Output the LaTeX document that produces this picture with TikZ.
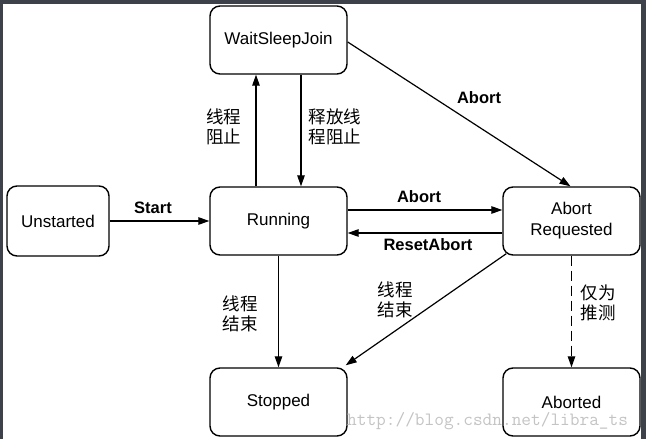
\documentclass[tikz,border=0pt]{standalone}
\usepackage{fontspec}
\setmainfont{Liberation Sans}
\newfontfamily\cjkfont{Noto Sans CJK SC}
\usetikzlibrary{arrows.meta}
\definecolor{framegray}{HTML}{3D424A}
\definecolor{wmgray}{HTML}{C4C4C4}
\begin{document}
\begin{tikzpicture}[x=1pt,y=-1pt,
  state/.style={draw=black, line width=1.4pt, rounded corners=10pt, fill=white,
    minimum width=137pt, minimum height=68pt, inner sep=0pt, align=center,
    font=\fontsize{17}{21}\selectfont},
  arr/.style={line width=1.2pt, -{Triangle[length=11pt,width=7.5pt]}},
  lbl/.style={font=\fontsize{16.5}{20}\selectfont\bfseries, inner sep=0pt},
  cn/.style={font=\fontsize{17.5}{20}\selectfont\cjkfont, align=left, inner sep=0pt}]
\useasboundingbox (0,0) rectangle (646,439);
\fill[framegray] (0,0) rectangle (646,439);
\fill[white] (3,4) rectangle (641,439);

\node[state] (wsj) at (278.5,40) {WaitSleepJoin};
\node[state] (run) at (278.5,221) {Running};
\node[state, minimum width=102pt, minimum height=70pt] (uns) at (58,221) {Unstarted};
\node[state] (ar) at (571.5,221) {Abort\\Requested};
\node[state] (st) at (278.5,402) {Stopped};
\node[state] (ab) at (571.5,402) {Aborted};

\draw[arr] ([xshift=-22.5pt]run.north) -- ([xshift=-22.5pt]wsj.south);
\draw[arr] ([xshift=22.5pt]wsj.south) -- ([xshift=22.5pt]run.north);
\draw[arr] (uns.east) -- (run.west);
\draw[arr] ([yshift=11pt]run.east) -- ([yshift=11pt]ar.west);
\draw[arr] ([yshift=-12pt]ar.west) -- ([yshift=-12pt]run.east);
\draw[arr] ([yshift=-2pt]wsj.east) -- ([xshift=-1pt]ar.north);
\draw[arr] (run.south) -- (st.north);
\draw[arr] ([xshift=4pt,yshift=2pt]ar.south west) -- ([xshift=-2pt,yshift=2pt]st.north east);
\draw[arr, dash pattern=on 10pt off 5pt] (ar.south) -- (ab.north);

\node[cn] (l1) at (223.5,127) {线程\\阻止};
\node[cn] (l2) at (335,127) {释放线\\程阻止};
\node[lbl] (l3) at (153,208) {Start};
\node[lbl] (l4) at (479,98) {Abort};
\node[lbl] (l5) at (419,197) {Abort};
\node[lbl] (l6) at (428,245) {ResetAbort};
\node[cn] (l7) at (240,314) {线程\\结束};
\node[cn] (l8) at (395,300) {线程\\结束};
\node[cn] (l9) at (598,303) {仅为\\推测};

\node[anchor=base west, inner sep=0pt, text=wmgray, font=\fontsize{18.8}{20}\selectfont\ttfamily] (wm) at (347,425) {http://blog.csdn.net/libra\_ts};
\end{tikzpicture}
\end{document}
